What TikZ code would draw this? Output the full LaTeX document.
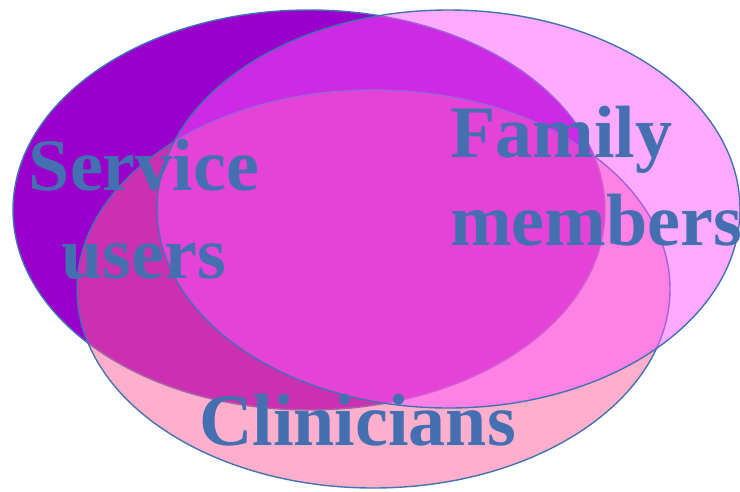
\documentclass[tikz,border=0pt]{standalone}
\usepackage{fontspec}
\setmainfont{Liberation Serif}
\definecolor{edgeblue}{RGB}{68,114,176}
\definecolor{labelblue}{RGB}{68,112,178}
\definecolor{svcpurple}{RGB}{153,0,204}
\definecolor{clinpink}{RGB}{255,96,153}
\definecolor{fampink}{RGB}{255,85,255}
\begin{document}
\begin{tikzpicture}[x=1pt,y=-1pt,
  setshape/.style={draw=edgeblue,line width=1.4pt},
  setlabel/.style={inner sep=0pt,text=labelblue,font=\fontsize{74}{88}\selectfont\bfseries}]
\useasboundingbox (0,0) rectangle (740,491);
% the three overlapping sets, drawn back to front
\path[setshape,fill=svcpurple] (309,210) ellipse [x radius=296, y radius=200];
\path[setshape,fill=clinpink,fill opacity=0.5] (373.5,289) ellipse [x radius=296.5, y radius=199];
\path[setshape,fill=fampink,fill opacity=0.5] (448.5,209) ellipse [x radius=291.5, y radius=199];
% set names (base anchor of a two-line node sits on its last line)
\node[setlabel,align=center,anchor=base] (svc) at (144,278) {Service\\users};
\node[setlabel,align=left,anchor=base west] (fam) at (450,245) {Family\\members};
\node[setlabel,anchor=base] (clin) at (357.5,445) {Clinicians};
\end{tikzpicture}
\end{document}
